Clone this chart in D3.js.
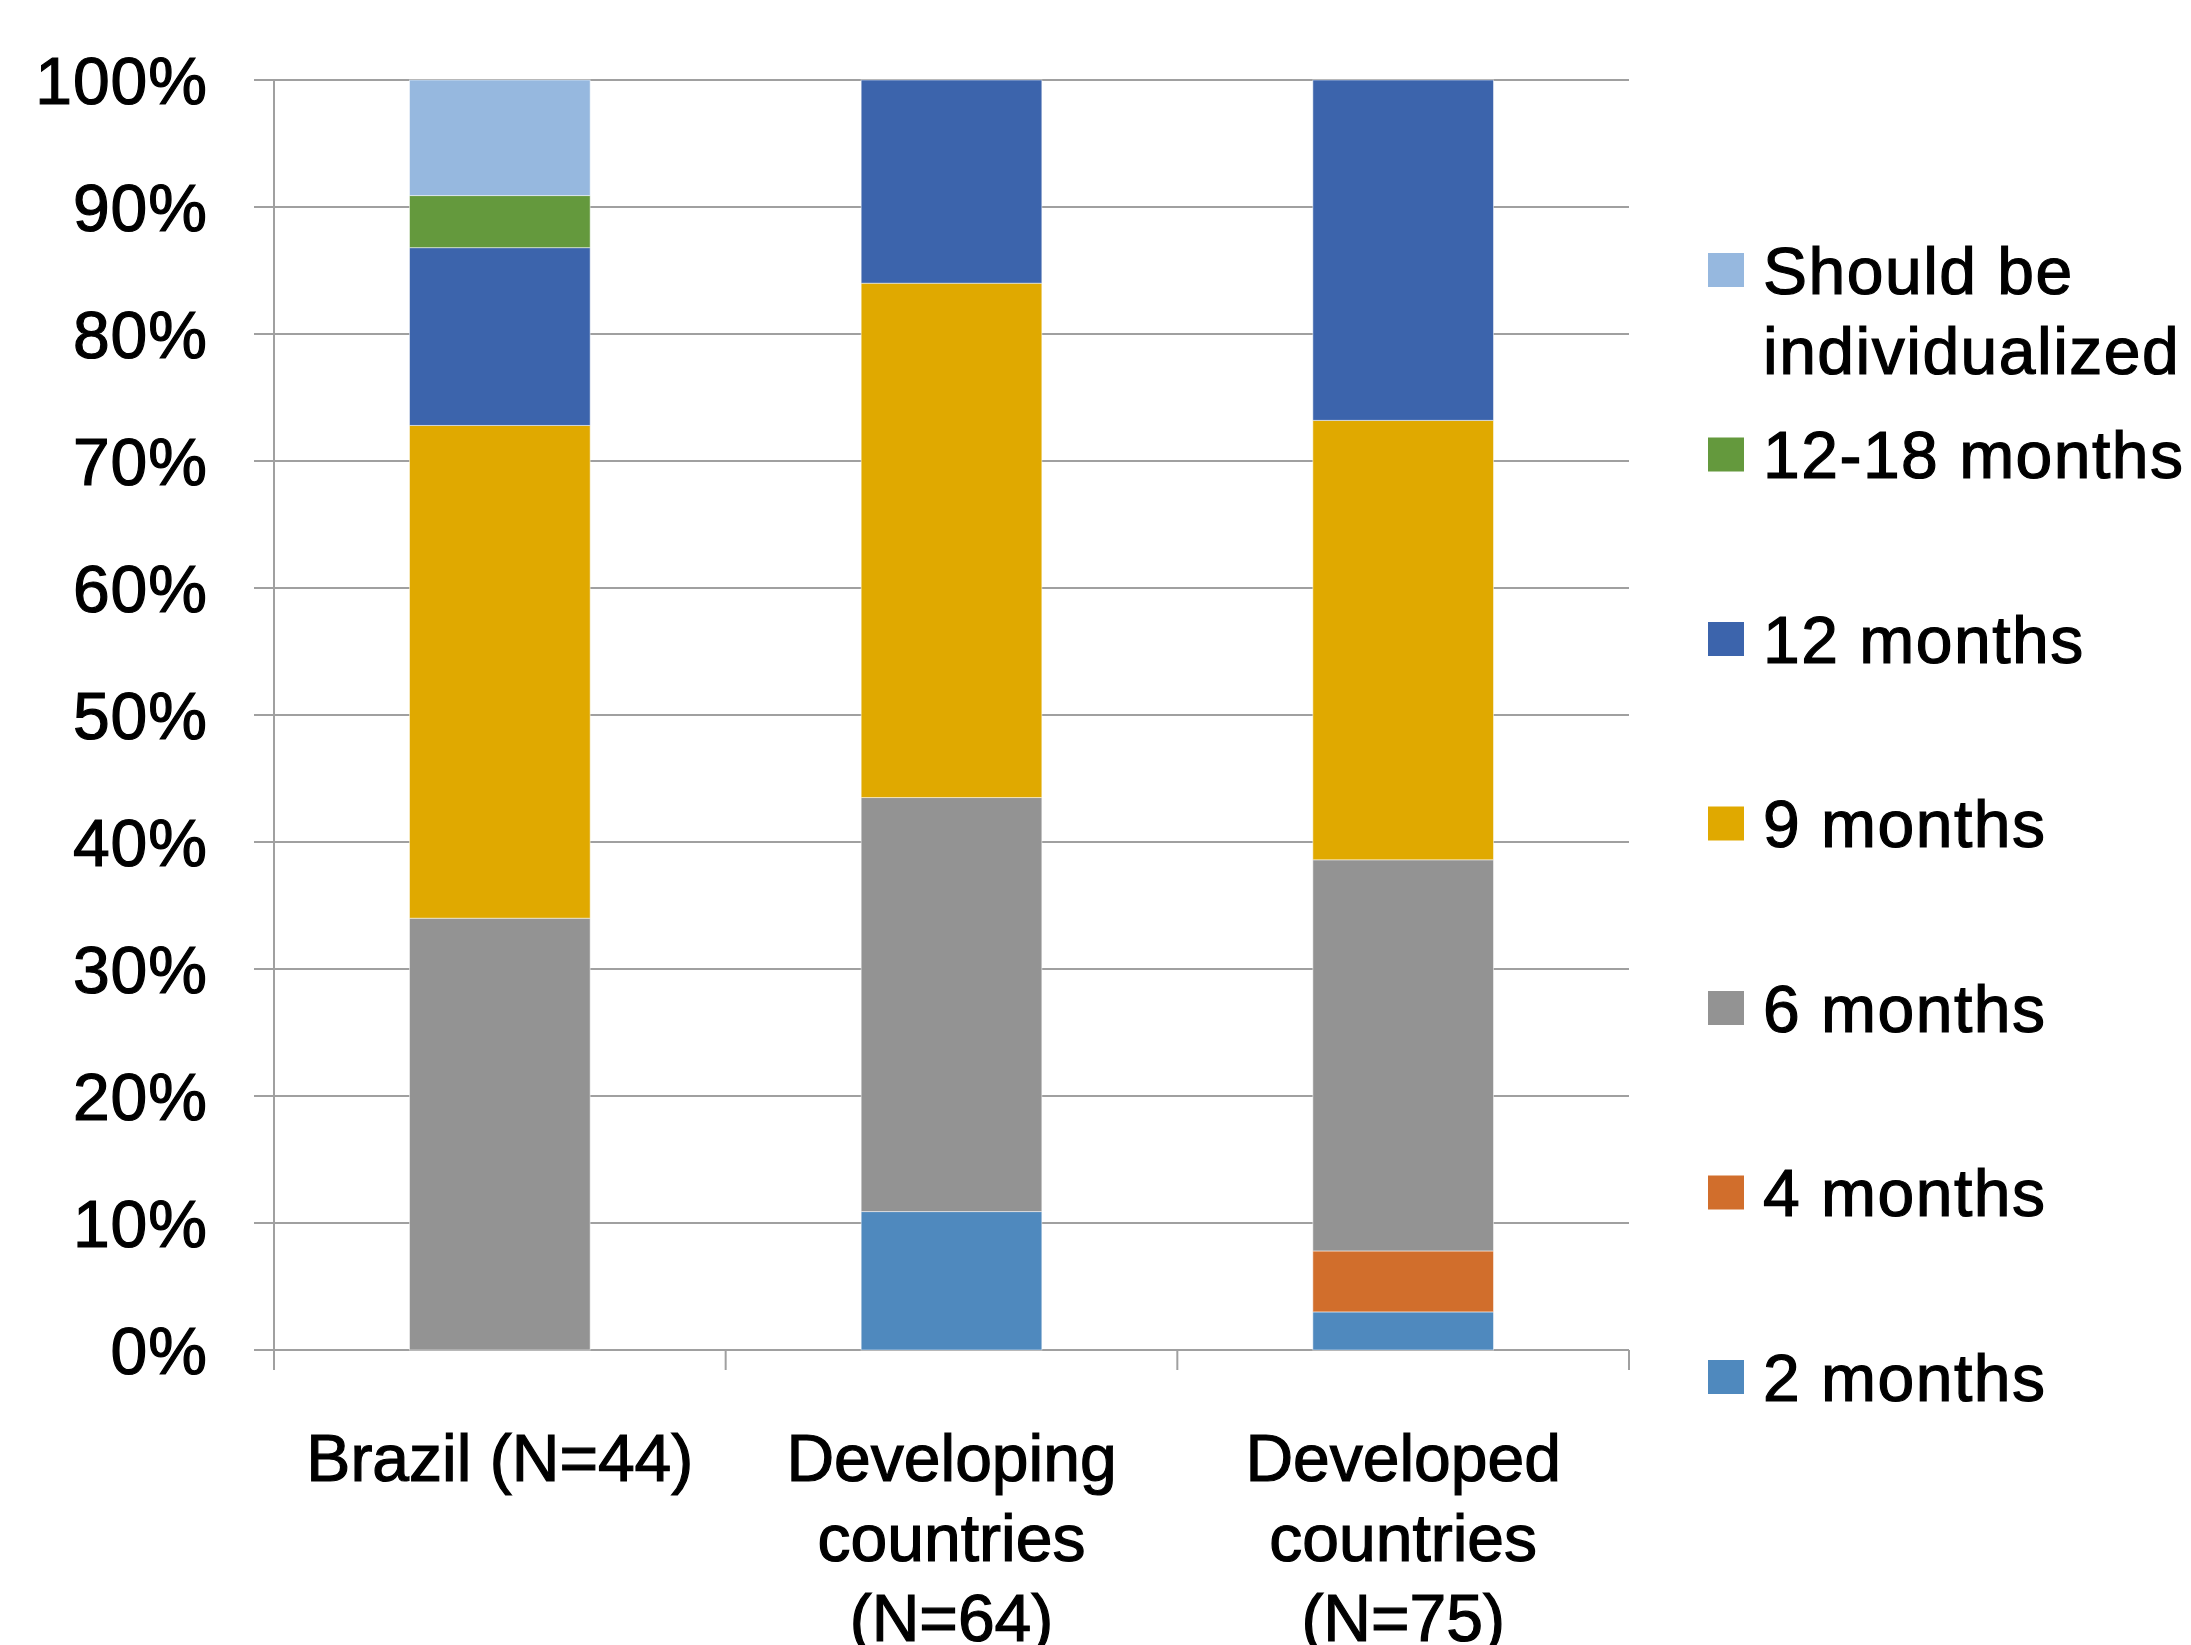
<!DOCTYPE html>
<meta charset="utf-8">
<title>Duration of treatment</title>
<style>
  body { margin: 0; background: #fff; }
  svg text { font-family: "Liberation Sans", Arial, sans-serif; fill: #000; stroke: #000; stroke-width: 1.2px; }
</style>
<script src="https://d3js.org/d3.v7.min.js"></script>
<div id="chart"></div>
<script>

// categories (label lines)
var categories = ["Brazil", "Developing", "Developed"];
var categoryLines = [
  ["Brazil  (N=44)"],
  ["Developing", "countries", "(N=64)"],
  ["Developed", "countries", "(N=75)"]
];

// series, bottom to top (percent of respondents)
var seriesNames = ["2 months", "4 months", "6 months", "9 months", "12 months", "12-18 months", "Should be individualized"];
var twoMonths      = [0,    10.9, 3.0];
var fourMonths     = [0,    0,    4.8];
var sixMonths      = [34.0, 32.6, 30.8];
var nineMonths     = [38.8, 40.5, 34.6];
var twelveMonths   = [14.0, 16.0, 26.8];
var twelveTo18     = [4.1,  0,    0];
var individualized = [9.1,  0,    0];
var seriesColors = ["#4F89BE", "#D16E2C", "#939393", "#E0A900", "#3C64AC", "#64993D", "#96B8DF"];

var yTicks = [0, 10, 20, 30, 40, 50, 60, 70, 80, 90, 100];

var W = 2191, H = 1645;
var margin = {top: 80, left: 274, right: 562, bottom: 295};
var width = W - margin.left - margin.right,
    height = H - margin.top - margin.bottom;

var allSeries = [twoMonths, fourMonths, sixMonths, nineMonths, twelveMonths, twelveTo18, individualized];
var rows = categories.map(function(c, i) {
  var r = {cat: c};
  seriesNames.forEach(function(s, k) { r[s] = allSeries[k][i]; });
  return r;
});
var stacked = d3.stack().keys(seriesNames)(rows);

var svg = d3.select("#chart").append("svg")
    .attr("width", W).attr("height", H);
var g = svg.append("g")
    .attr("transform", "translate(" + margin.left + "," + margin.top + ")");

var x = d3.scaleBand().domain(categories).range([0, width]).paddingInner(0.6).paddingOuter(0.3);
var y = d3.scaleLinear().domain([0, 100]).range([height, 0]);
var xb = d3.scaleBand().domain(categories).range([0, width]); // for boundary ticks

// gridlines
g.selectAll("line.grid")
  .data(yTicks)
  .enter().append("line")
    .attr("x1", -20).attr("x2", width)
    .attr("y1", function(d) { return y(d); })
    .attr("y2", function(d) { return y(d); })
    .attr("stroke", "#A0A0A0").attr("stroke-width", 2);

// y axis line
g.append("line")
  .attr("x1", 0).attr("x2", 0).attr("y1", 0).attr("y2", height + 20)
  .attr("stroke", "#A0A0A0").attr("stroke-width", 2);

// x tick marks at category boundaries
var bounds = categories.map(function(c) { return xb(c); }).concat([width]);
g.selectAll("line.xt")
  .data(bounds)
  .enter().append("line")
    .attr("x1", function(d) { return d; }).attr("x2", function(d) { return d; })
    .attr("y1", height).attr("y2", height + 20)
    .attr("stroke", "#A0A0A0").attr("stroke-width", 2);

// bars
g.selectAll("g.layer")
  .data(stacked)
  .enter().append("g")
    .attr("fill", function(d, i) { return seriesColors[i]; })
  .selectAll("rect")
  .data(function(d) { return d; })
  .enter().append("rect")
    .attr("x", function(d) { return x(d.data.cat); })
    .attr("width", x.bandwidth())
    .attr("y", function(d) { return y(d[1]); })
    .attr("height", function(d) { return y(d[0]) - y(d[1]); })
    .attr("stroke", "#ffffff").attr("stroke-opacity", 0.5).attr("stroke-width", 1);

// y labels
g.selectAll("text.yl")
  .data(yTicks)
  .enter().append("text")
    .attr("x", -66)
    .attr("y", function(d) { return y(d); })
    .attr("dy", "0.36em")
    .attr("text-anchor", "end")
    .style("font-size", "66px")
    .style("letter-spacing", "1px")
    .text(function(d) { return d + "%"; });

// x labels
categories.forEach(function(c, i) {
  var t = g.append("text")
    .attr("text-anchor", "middle")
    .style("font-size", "66px")
    .attr("transform", "translate(" + (x(c) + x.bandwidth() / 2) + "," + (height + 131) + ")");
  categoryLines[i].forEach(function(line, j) {
    t.append("tspan").attr("x", 0).attr("y", j * 80).text(line);
  });
});

// legend (top entry first)
var legendOrder = seriesNames.slice().reverse();
var lg = svg.append("g").attr("transform", "translate(1708,270)");
legendOrder.forEach(function(name, i) {
  var k = seriesNames.indexOf(name);
  var item = lg.append("g").attr("transform", "translate(0," + (i * 184.5) + ")");
  item.append("rect")
    .attr("x", 0).attr("y", -17).attr("width", 36).attr("height", 34)
    .attr("fill", seriesColors[k]);
  var t = item.append("text")
    .attr("x", 55).attr("y", 0).attr("dy", "0.36em")
    .style("font-size", "66px")
    .style("letter-spacing", "1.5px");
  if (name === "Should be individualized") {
    t.append("tspan").attr("x", 55).attr("dy", "0.36em").text("Should be");
    t.append("tspan").attr("x", 55).attr("dy", "80").text("individualized");
  } else {
    t.text(name);
  }
});

</script>
